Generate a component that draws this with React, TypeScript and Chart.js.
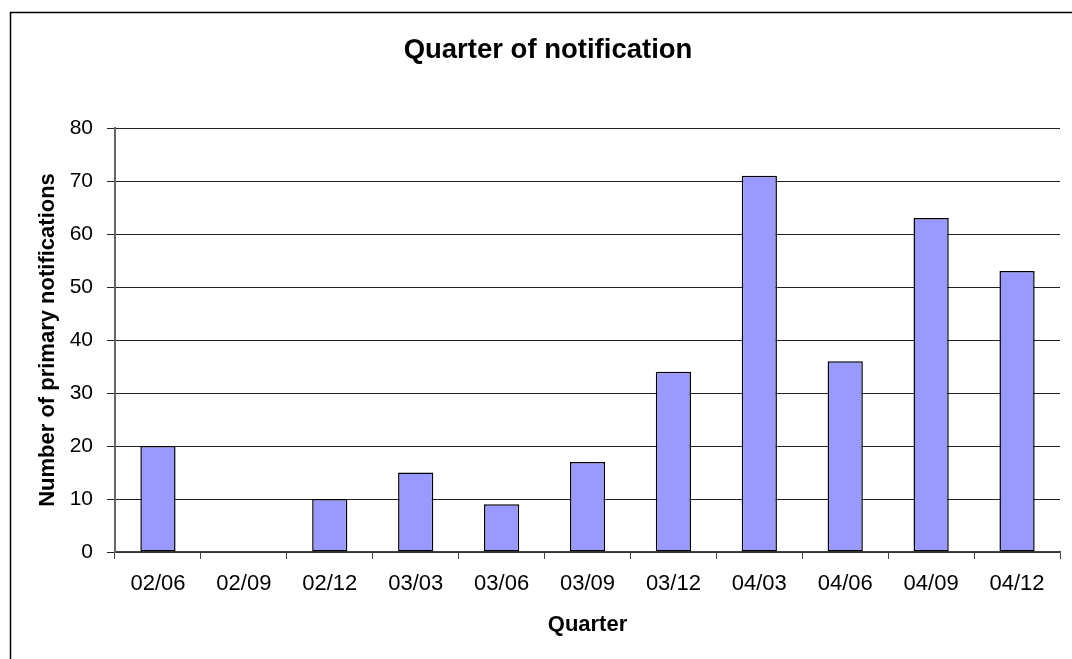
import React, { useEffect, useRef } from "react";
import { Chart, registerables } from "chart.js";

Chart.register(...registerables);

const categories = ["02/06", "02/09", "02/12", "03/03", "03/06", "03/09", "03/12", "04/03", "04/06", "04/09", "04/12"];
const notifications = [20, 0, 10, 15, 9, 17, 34, 71, 36, 63, 53];
const chartTitle = "Quarter of notification";
const xTitle = "Quarter";
const yTitle = "Number of primary notifications";
const yMin = 0;
const yMax = 80;
const yStep = 10;

const FONT = "'Liberation Sans', Arial, sans-serif";

const frameBorder = {
  id: "frameBorder",
  beforeDraw(chart: any) {
    const ctx = chart.ctx;
    ctx.save();
    ctx.fillStyle = "#ffffff";
    ctx.fillRect(0, 0, chart.width, chart.height);
    ctx.strokeStyle = "#000000";
    ctx.lineWidth = 1.5;
    ctx.beginPath();
    ctx.moveTo(10.5, chart.height + 5);
    ctx.lineTo(10.5, 12.5);
    ctx.lineTo(chart.width + 5, 12.5);
    ctx.stroke();
    ctx.restore();
  },
};

export default function App() {
  const ref = useRef<HTMLCanvasElement | null>(null);

  useEffect(() => {
    if (!ref.current) return;
    const chart = new Chart(ref.current, {
      type: "bar",
      data: {
        labels: categories,
        datasets: [
          {
            data: notifications,
            backgroundColor: "#9999ff",
            borderColor: "#000000",
            borderWidth: 1.5,
            borderSkipped: false,
            barPercentage: 0.41,
            categoryPercentage: 1,
          },
        ],
      },
      options: {
        animation: false,
        responsive: false,
        devicePixelRatio: 1,
        layout: { padding: { left: 36, right: 12, top: 0, bottom: 0 } },
        plugins: {
          legend: { display: false },
          tooltip: { enabled: false },
          title: {
            display: true,
            text: chartTitle,
            color: "#000",
            font: { family: FONT, size: 27.5, weight: "bold" },
            padding: { top: 33.5, bottom: 61.5 },
          },
        },
        scales: {
          x: {
            afterFit: (s: any) => {
              s.height = 107;
            },
            grid: {
              offset: true,
              drawOnChartArea: false,
              drawTicks: true,
              tickLength: 7,
              color: "#444",
            },
            border: { display: true, color: "#444", width: 1.5 },
            ticks: {
              color: "#000",
              padding: 12,
              maxRotation: 0,
              autoSkip: false,
              font: { family: FONT, size: 22 },
            },
            title: {
              display: true,
              text: xTitle,
              color: "#000",
              font: { family: FONT, size: 22, weight: "bold" },
              padding: { top: 20.5, bottom: 20.5 },
            },
          },
          y: {
            min: yMin,
            max: yMax,
            afterFit: (s: any) => {
              s.width = 79;
            },
            grid: {
              color: "#222",
              lineWidth: 1,
              drawTicks: true,
              tickLength: 8,
            },
            border: { display: true, color: "#666", width: 2 },
            ticks: {
              stepSize: yStep,
              color: "#000",
              padding: 14,
              font: { family: FONT, size: 21 },
            },
            title: {
              display: true,
              text: yTitle,
              color: "#000",
              font: { family: FONT, size: 22, weight: "bold", lineHeight: 1 },
              padding: { top: 1, bottom: 1 },
            },
          },
        },
      },
      plugins: [frameBorder],
    });
    return () => chart.destroy();
  }, []);

  return (
    <div style={{ position: "fixed", left: 0, top: 0, width: 1072, height: 659, background: "#fff", overflow: "hidden" }}>
      <canvas ref={ref} width={1072} height={659} style={{ width: 1072, height: 659, display: "block" }} />
    </div>
  );
}
